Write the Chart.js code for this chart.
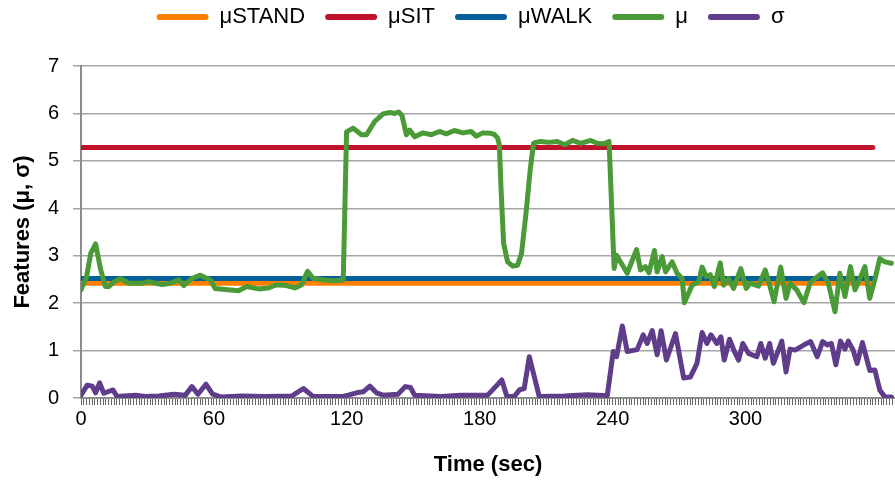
<!DOCTYPE html>
<html>
<head>
<meta charset="utf-8">
<title>Features over time</title>
<script src="https://cdn.jsdelivr.net/npm/chart.js@4.4.1/dist/chart.umd.min.js"></script>
<style>
    html, body { margin: 0; padding: 0; background: #fff; overflow: hidden; }
    #wrap { width: 897px; height: 485px; }
</style>
</head>
<body>
<div id="wrap"><canvas id="featureChart" width="897" height="485"></canvas></div>
<script>
// time axis labels (sec)
const timeLabels = [0, 60, 120, 180, 240, 300];

// reference levels (mean of each activity)
const refTime = [0, 357.5];
const muStand = [2.42, 2.42];
const muSit = [5.28, 5.28];
const muWalk = [2.52, 2.52];

// running mean
const muTime = [0, 2.5, 4.4, 6.6, 8.9, 11, 12.5, 15, 17.8, 21.6, 27.6, 30.6, 36.6, 40.4, 44.1, 46.4, 50.1, 53.9, 58.4, 60.6,
    65.1, 71.1, 74.8, 80.1, 84.6, 88.4, 92.8, 96.6, 99.6, 102.3, 104.9, 110.1, 114.6, 118.4, 119.9, 122.9, 126.6, 128.9, 132.6, 136.4,
    139.4, 141.6, 143.4, 144.9, 146.9, 148.4, 150.6, 154.4, 158.1, 161.9, 164.9, 168.6, 172.4, 176.1, 178.4, 181.4, 185.1, 186.6, 188.1, 188.9,
    189.6, 190.8, 192.6, 194.9, 197.1, 198.9, 200.9, 202.8, 204.3, 205.4, 207.6, 211.4, 215.1, 218.4, 221.9, 225.6, 230.1, 233.1, 236.1, 238.4,
    240.7, 241.8, 246.6, 250.8, 252.6, 254.8, 256.4, 258.9, 260.1, 262.4, 263.9, 266.9, 269.1, 271.4, 272.4, 275.9, 278.9, 280.4, 282.3, 284.1,
    285.9, 288.6, 290.1, 292.4, 294.6, 297.9, 300.3, 302.1, 305.9, 308.9, 311.1, 312.9, 315.9, 318.3, 320.1, 323.1, 326.4, 329.1, 331.4, 334.8,
    337.4, 340.4, 342.6, 344.9, 347.4, 349.4, 351.4, 353.9, 356.1, 358.4, 360.6, 362.9, 365.9];
const muValues = [2.28, 2.55, 3.05, 3.25, 2.70, 2.35, 2.35, 2.45, 2.52, 2.42, 2.42, 2.45, 2.39, 2.42, 2.49, 2.37, 2.52, 2.59, 2.49, 2.31,
    2.29, 2.26, 2.35, 2.30, 2.32, 2.39, 2.37, 2.32, 2.39, 2.67, 2.52, 2.49, 2.47, 2.49, 5.61, 5.69, 5.55, 5.55, 5.83, 5.99,
    6.02, 6.00, 6.03, 5.96, 5.55, 5.65, 5.51, 5.59, 5.55, 5.62, 5.57, 5.64, 5.59, 5.62, 5.52, 5.59, 5.58, 5.56, 5.48, 5.33,
    4.45, 3.26, 2.87, 2.78, 2.80, 3.05, 3.89, 4.81, 5.37, 5.39, 5.41, 5.39, 5.41, 5.34, 5.43, 5.37, 5.43, 5.37, 5.36, 5.41,
    2.73, 3.01, 2.63, 3.13, 2.70, 2.77, 2.64, 3.11, 2.66, 2.98, 2.66, 2.87, 2.63, 2.52, 2.01, 2.38, 2.45, 2.76, 2.56, 2.60,
    2.35, 2.85, 2.38, 2.52, 2.31, 2.73, 2.31, 2.42, 2.36, 2.70, 2.35, 2.03, 2.76, 2.10, 2.42, 2.28, 2.01, 2.42, 2.52, 2.64,
    2.42, 1.82, 2.63, 2.14, 2.77, 2.28, 2.49, 2.77, 2.10, 2.49, 2.94, 2.87, 2.84];

// running standard deviation
const sigmaTime = [0, 2.8, 5.1, 6.6, 8.4, 10.3, 14.4, 16.3, 24.6, 29.1, 35.1, 41.9, 47.1, 50.1, 52.8, 56.4, 59.4, 63.6, 72.6, 83.1,
    95.1, 100.4, 104.9, 117.6, 120.6, 124.4, 127.4, 130.4, 133.4, 136.4, 143.1, 146.4, 148.8, 150.6, 162.6, 171.6, 183.6, 187.4, 190, 192.3,
    195.6, 197.9, 200.1, 202.4, 206.9, 218.1, 228.6, 237.6, 240.3, 241.8, 244.4, 246.6, 251.1, 253.8, 255.6, 257.9, 260.1, 261.9, 264.3, 268.4,
    272.1, 275.1, 278.1, 280.4, 282.6, 284.4, 287.1, 288.9, 290.4, 292.8, 294.9, 296.9, 298.8, 301.4, 305.1, 306.9, 308.9, 310.9, 312.6, 316.4,
    318.3, 320.1, 322.4, 327.6, 329.4, 332.4, 334.8, 336.9, 338.8, 340.8, 342.9, 344.9, 346.4, 348.6, 350.4, 352.8, 356.1, 358.4, 360.6, 362.9,
    365.9];
const sigmaValues = [0.06, 0.27, 0.25, 0.11, 0.32, 0.10, 0.17, 0.03, 0.06, 0.03, 0.04, 0.08, 0.06, 0.24, 0.08, 0.29, 0.08, 0.02, 0.04, 0.03,
    0.04, 0.20, 0.03, 0.03, 0.06, 0.11, 0.13, 0.25, 0.11, 0.06, 0.08, 0.24, 0.22, 0.06, 0.03, 0.06, 0.06, 0.25, 0.38, 0.03,
    0.03, 0.17, 0.20, 0.87, 0.03, 0.04, 0.07, 0.05, 0.98, 0.87, 1.52, 0.98, 1.02, 1.33, 1.15, 1.42, 0.91, 1.42, 0.80, 1.36,
    0.42, 0.44, 0.73, 1.38, 1.15, 1.33, 1.15, 1.29, 0.80, 1.24, 0.99, 0.80, 1.15, 0.94, 0.87, 1.15, 0.84, 1.15, 0.73, 1.20,
    0.55, 1.03, 1.01, 1.15, 1.19, 0.87, 1.19, 1.12, 1.15, 0.70, 1.20, 1.03, 1.20, 1.01, 0.73, 1.17, 0.58, 0.59, 0.17, 0.02,
    0.02];

function toPoints(xs, ys) {
    return xs.map((x, i) => ({ x: x, y: ys[i] }));
}

function lineSet(label, xs, ys, color, order) {
    return {
        label: label,
        data: toPoints(xs, ys),
        borderColor: color,
        backgroundColor: color,
        borderWidth: 5,
        borderCapStyle: 'round',
        borderJoinStyle: 'round',
        pointRadius: 0,
        tension: 0,
        order: order
    };
}

// legend: extra space under it, and nudged right like the original
const legendTweak = {
    id: 'legendTweak',
    beforeInit(chart) {
        const legend = chart.legend;
        const fit = legend.fit;
        const draw = legend.draw;
        legend.fit = function() {
            fit.call(legend);
            this.height += 28;
        };
        legend.draw = function() {
            this.ctx.save();
            this.ctx.translate(22, 0);
            draw.call(legend);
            this.ctx.restore();
        };
    }
};

const textFont = "'Liberation Sans', Arial, sans-serif";

function initChart() {
    const ctx = document.getElementById('featureChart').getContext('2d');

    new Chart(ctx, {
        type: 'line',
        data: {
            datasets: [
                lineSet('μSTAND', refTime, muStand, '#ff8000', 4),
                lineSet('μSIT', refTime, muSit, '#c0122b', 3),
                lineSet('μWALK', refTime, muWalk, '#055f98', 3),
                lineSet('μ', muTime, muValues, '#4b9a38', 0),
                lineSet('σ', sigmaTime, sigmaValues, '#5f3d8a', 1)
            ]
        },
        plugins: [legendTweak],
        options: {
            responsive: false,
            animation: false,
            devicePixelRatio: 1,
            layout: { padding: { top: -14, right: 0, left: 0, bottom: 0 } },
            plugins: {
                legend: {
                    display: true,
                    position: 'top',
                    labels: {
                        boxWidth: 52,
                        boxHeight: 6,
                        padding: 20,
                        useBorderRadius: true,
                        borderRadius: 3,
                        color: '#000',
                        font: { family: textFont, size: 22 },
                        sort: (a, b) => a.datasetIndex - b.datasetIndex,
                        generateLabels: function(chart) {
                            return Chart.defaults.plugins.legend.labels.generateLabels(chart).map(item => {
                                item.lineWidth = 0;
                                return item;
                            });
                        }
                    }
                },
                tooltip: { enabled: false }
            },
            scales: {
                x: {
                    type: 'linear',
                    min: 0,
                    max: 367.5,
                    afterFit: function(scale) { scale.height = 87; },
                    ticks: {
                        stepSize: 1.25,
                        autoSkip: false,
                        maxRotation: 0,
                        padding: 2,
                        color: '#000',
                        font: { family: textFont, size: 20 },
                        callback: function(value) {
                            return timeLabels.includes(value) ? String(value) : '';
                        }
                    },
                    grid: {
                        drawOnChartArea: false,
                        drawTicks: true,
                        tickLength: 7,
                        tickColor: '#666666',
                        tickWidth: 1,
                        color: '#666666',
                        lineWidth: 1
                    },
                    border: { color: '#8c8c8c', width: 2 },
                    title: {
                        display: true,
                        text: 'Time (sec)',
                        color: '#000',
                        padding: { top: 4, bottom: 7 },
                        font: { family: textFont, size: 22, weight: 'bold' }
                    }
                },
                y: {
                    min: 0,
                    max: 7,
                    afterFit: function(scale) { scale.width = 81; },
                    ticks: {
                        stepSize: 1,
                        padding: 14,
                        color: '#000',
                        font: { family: textFont, size: 20 }
                    },
                    grid: {
                        color: '#a6a6a6',
                        lineWidth: 1.5,
                        tickLength: 8
                    },
                    border: { color: '#8c8c8c', width: 2 },
                    title: {
                        display: true,
                        text: 'Features (μ, σ)',
                        color: '#000',
                        padding: { top: 10, bottom: 4 },
                        font: { family: textFont, size: 22, weight: 'bold' }
                    }
                }
            }
        }
    });
}

initChart();
</script>
</body>
</html>
